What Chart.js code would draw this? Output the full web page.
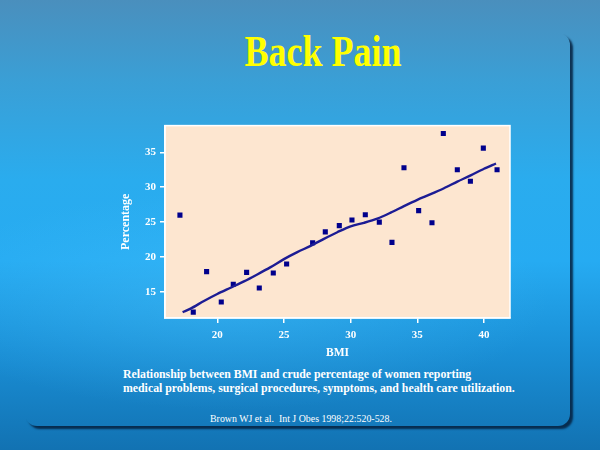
<!DOCTYPE html>
<html>
<head>
<meta charset="utf-8">
<script src="https://cdn.jsdelivr.net/npm/chart.js@4"></script>
<style>
  body { margin: 0; }
  #slide {
    position: relative; width: 600px; height: 450px; overflow: hidden;
    background:
      radial-gradient(ellipse 320px 110px at 230px 300px, rgba(80,200,255,0.35), rgba(80,200,255,0) 100%),
      linear-gradient(180deg, #4a8fbd 0%, #3a9fd6 18%, #2aacee 40%, #26abf2 58%, #1a8fd6 78%, #1272b2 100%);
    font-family: "Liberation Serif", "Times New Roman", serif;
  }
  #panel {
    position: absolute; left: 25px; top: 33px; width: 545px; height: 393px;
    border-radius: 12px; box-shadow: 3px 3px 2px rgba(5,30,60,0.85);
  }
  #title {
    position: absolute; left: 0; width: 646px; top: 26px; text-align: center;
    color: #ffff00; font-weight: bold; font-size: 36px;
    transform: scaleY(1.22); transform-origin: 0 0;
  }
  #caption {
    position: absolute; left: 123px; top: 367px; color: #fff;
    font-weight: bold; font-size: 11.8px; line-height: 14px;
  }
  #cite {
    position: absolute; left: 210px; top: 413px; color: #fff; font-size: 9.9px;
  }
  #box { position: absolute; left: 110px; top: 115px; width: 405px; height: 250px; }
</style>
</head>
<body>
<div id="slide">
  <div id="panel"></div>
  <div id="title">Back Pain</div>
  <div id="box"><canvas id="chart"></canvas></div>
  <div id="caption">Relationship between BMI and crude percentage of women reporting<br>medical problems, surgical procedures, symptoms, and health care utilization.</div>
  <div id="cite">Brown WJ et al.&nbsp; Int J Obes 1998;22:520-528.</div>
</div>
<script>
// observed points
const bmi = [17.2, 18.2, 19.2, 20.3, 21.2, 22.2, 23.15, 24.2, 25.2, 27.15, 28.1, 29.15,
  30.1, 31.1, 32.15, 33.1, 34.0, 35.1, 36.1, 36.95, 38.0, 38.98, 39.95, 40.98];
const pct = [26.0, 12.1, 17.9, 13.55, 16.1, 17.8, 15.55, 17.7, 19.0, 22.05, 23.6, 24.5,
  25.3, 26.05, 25.0, 22.1, 32.8, 26.65, 24.9, 37.7, 32.5, 30.85, 35.6, 32.5];
// smoothed curve
const fitBmi = [17.4, 18, 19, 20, 21, 22, 23, 24, 25, 26, 27, 28, 29, 30, 31, 32, 33,
  34, 35, 36, 37, 38, 39, 40, 40.9];
const fitPct = [12.1, 12.6, 13.7, 14.7, 15.6, 16.5, 17.5, 18.55, 19.7, 20.7, 21.6, 22.6,
  23.55, 24.4, 24.9, 25.5, 26.35, 27.3, 28.2, 29.0, 29.85, 30.8, 31.7, 32.65, 33.4];
const xTicks = [20, 25, 30, 35, 40];
const yTicks = [15, 20, 25, 30, 35];

// peach plot background with white frame
const plotBg = {
  id: "plotBg",
  beforeDraw(chart) {
    const a = chart.chartArea;
    const c = chart.ctx;
    c.save();
    c.fillStyle = "#fde6d0";
    c.fillRect(a.left, a.top, a.right - a.left, a.bottom - a.top);
    c.strokeStyle = "#ffffff";
    c.lineWidth = 1.5;
    c.strokeRect(a.left, a.top, a.right - a.left, a.bottom - a.top);
    c.restore();
  }
};

const tickFont = { family: "Liberation Serif", size: 11, weight: "bold" };

new Chart(document.getElementById("chart"), {
  type: "scatter",
  data: {
    datasets: [
      {
        label: "Fit",
        data: fitBmi.map((x, i) => ({ x: x, y: fitPct[i] })),
        showLine: true,
        borderColor: "#1c1c94",
        borderWidth: 2.4,
        pointRadius: 0,
        tension: 0.3,
      },
      {
        label: "Women",
        data: bmi.map((x, i) => ({ x: x, y: pct[i] })),
        pointStyle: "rect",
        pointRadius: 3.6,
        backgroundColor: "#00008c",
        borderColor: "#00008c",
        borderWidth: 0,
      },
    ],
  },
  options: {
    responsive: true,
    maintainAspectRatio: false,
    animation: false,
    layout: { padding: { top: 6, right: 5, left: 0, bottom: 0 } },
    plugins: { legend: { display: false }, tooltip: { enabled: false } },
    scales: {
      x: {
        min: 16.08,
        max: 41.95,
        afterBuildTicks: (s) => { s.ticks = xTicks.map(v => ({ value: v })); },
        afterFit: (s) => { s.height = 47; },
        grid: { drawOnChartArea: false, drawTicks: true, tickLength: 5, color: "#ffffff", lineWidth: 1.5 },
        border: { display: true, color: "#ffffff", width: 1.5 },
        ticks: { color: "#ffffff", font: tickFont, padding: 6, maxRotation: 0 },
        title: { display: true, text: "BMI", color: "#ffffff", padding: { top: 0, bottom: 5 },
          font: { family: "Liberation Serif", size: 11.5, weight: "bold" } },
      },
      y: {
        min: 11.26,
        max: 38.83,
        afterBuildTicks: (s) => { s.ticks = yTicks.map(v => ({ value: v })); },
        afterFit: (s) => { s.width = 55; },
        grid: { drawOnChartArea: false, drawTicks: true, tickLength: 5, color: "#ffffff", lineWidth: 1.5 },
        border: { display: true, color: "#ffffff", width: 1.5 },
        ticks: { color: "#ffffff", font: tickFont, padding: 4 },
        title: { display: true, text: "Percentage", color: "#ffffff", padding: { top: 9, bottom: 0 },
          font: { family: "Liberation Serif", size: 12, weight: "bold" } },
      },
    },
  },
  plugins: [plotBg],
});
</script>
</body>
</html>
